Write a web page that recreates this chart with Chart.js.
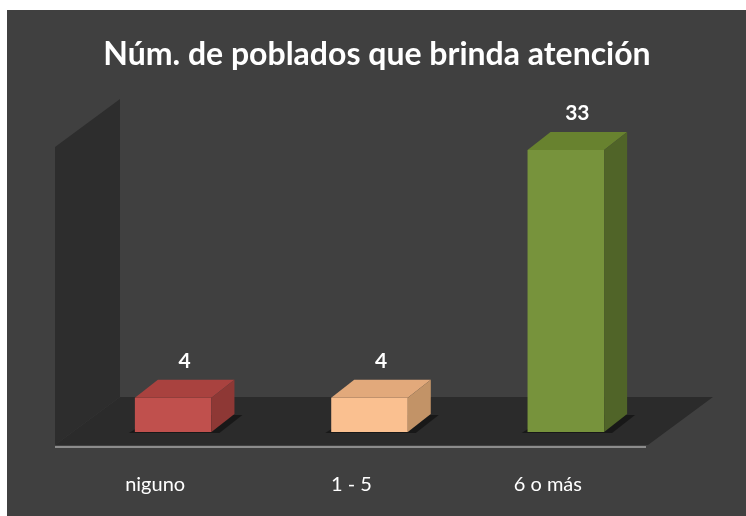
<!DOCTYPE html>
<html lang="es">
<head>
    <meta charset="UTF-8">
    <title>Núm. de poblados que brinda atención</title>
    <script src="https://cdn.jsdelivr.net/npm/chart.js"></script>
    <style>
        body { margin: 0; background: #ffffff; }
        canvas { display: block; }
    </style>
</head>
<body>
    <canvas id="poblados" width="746" height="516"></canvas>

    <script>
        // chart data
        const titleText = 'Núm. de poblados que brinda atención';
        const categories = ['niguno', '1 - 5', '6 o más'];
        const values = [4, 4, 33];
        const axisMax = 35;

        // bar face colours (front / top / side)
        const frontColors = ['#c0504d', '#fac090', '#77933c'];
        const topColors = ['#a9423f', '#e2a97b', '#68822f'];
        const sideColors = ['#8e3835', '#c29367', '#506428'];

        const depthX = 23, depthY = -18;     // bar depth
        const floorDX = 65, floorDY = -48;   // floor / wall depth

        const scene3d = {
            id: 'scene3d',
            beforeDraw(chart) {
                const ctx = chart.ctx;
                const area = chart.chartArea;
                const yScale = chart.scales.y;
                ctx.save();
                ctx.fillStyle = '#ffffff';
                ctx.fillRect(0, 0, chart.width, chart.height);
                ctx.fillStyle = '#404040';
                ctx.fillRect(7, 10, chart.width - 7, chart.height - 10);

                // title
                ctx.fillStyle = '#ffffff';
                ctx.font = 'bold 32px Lato';
                ctx.textAlign = 'center';
                ctx.textBaseline = 'middle';
                ctx.fillText(titleText, 377, 55);

                const fx0 = area.left - 20, fx1 = area.right - 16;
                const fy = yScale.getPixelForValue(0) + 13;
                const wallH = fy - (yScale.getPixelForValue(axisMax) + 14);

                // floor
                ctx.fillStyle = '#2b2b2b';
                ctx.beginPath();
                ctx.moveTo(fx0, fy);
                ctx.lineTo(fx1, fy);
                ctx.lineTo(fx1 + floorDX, fy + floorDY);
                ctx.lineTo(fx0 + floorDX, fy + floorDY);
                ctx.closePath();
                ctx.fill();

                // left wall
                ctx.fillStyle = '#2d2d2d';
                ctx.beginPath();
                ctx.moveTo(fx0, fy);
                ctx.lineTo(fx0, fy - wallH);
                ctx.lineTo(fx0 + floorDX, fy - wallH + floorDY);
                ctx.lineTo(fx0 + floorDX, fy + floorDY);
                ctx.closePath();
                ctx.fill();

                // front axis line
                ctx.strokeStyle = '#8c8c8c';
                ctx.lineWidth = 2;
                ctx.beginPath();
                ctx.moveTo(fx0, fy + 2);
                ctx.lineTo(fx1 - 2, fy + 2);
                ctx.stroke();

                // bar shadows
                const meta = chart.getDatasetMeta(0);
                ctx.fillStyle = 'rgba(20,20,20,0.8)';
                meta.data.forEach(bar => {
                    const left = bar.x - bar.width / 2;
                    ctx.beginPath();
                    ctx.moveTo(left - 6, bar.base + 1);
                    ctx.lineTo(left + bar.width + 8, bar.base + 1);
                    ctx.lineTo(left + bar.width + depthX + 8, bar.base + depthY + 1);
                    ctx.lineTo(left + depthX, bar.base + depthY + 1);
                    ctx.closePath();
                    ctx.fill();
                });
                ctx.restore();
            },
            afterDatasetsDraw(chart) {
                const ctx = chart.ctx;
                const meta = chart.getDatasetMeta(0);
                ctx.save();
                meta.data.forEach((bar, i) => {
                    const left = bar.x - bar.width / 2;
                    const right = bar.x + bar.width / 2;
                    const top = bar.y;
                    const base = bar.base;

                    ctx.fillStyle = topColors[i];
                    ctx.beginPath();
                    ctx.moveTo(left, top);
                    ctx.lineTo(right, top);
                    ctx.lineTo(right + depthX, top + depthY);
                    ctx.lineTo(left + depthX, top + depthY);
                    ctx.closePath();
                    ctx.fill();

                    ctx.fillStyle = sideColors[i];
                    ctx.beginPath();
                    ctx.moveTo(right, top);
                    ctx.lineTo(right + depthX, top + depthY);
                    ctx.lineTo(right + depthX, base + depthY);
                    ctx.lineTo(right, base);
                    ctx.closePath();
                    ctx.fill();

                    ctx.fillStyle = '#ffffff';
                    ctx.font = 'bold 21px Lato';
                    ctx.textAlign = 'center';
                    ctx.textBaseline = 'middle';
                    ctx.fillText(String(values[i]), bar.x + depthX / 2, top + depthY - 19);
                });
                ctx.restore();
            }
        };

        new Chart(document.getElementById('poblados'), {
            type: 'bar',
            data: {
                labels: categories,
                datasets: [{
                    data: values,
                    backgroundColor: frontColors,
                    borderWidth: 0,
                    barPercentage: 0.39,
                    categoryPercentage: 1
                }]
            },
            options: {
                responsive: false,
                devicePixelRatio: 1,
                animation: false,
                layout: { padding: { top: 133, left: 75, right: 82, bottom: 0 } },
                plugins: {
                    legend: { display: false },
                    tooltip: { enabled: false },
                    title: { display: false }
                },
                scales: {
                    x: {
                        grid: { display: false },
                        border: { display: false },
                        ticks: {
                            color: '#ffffff',
                            font: { family: 'Lato', size: 20 },
                            padding: 33,
                            labelOffset: -18
                        },
                        afterFit(scale) { scale.height = 84; }
                    },
                    y: { display: false, min: 0, max: axisMax }
                }
            },
            plugins: [scene3d]
        });
    </script>
</body>
</html>
